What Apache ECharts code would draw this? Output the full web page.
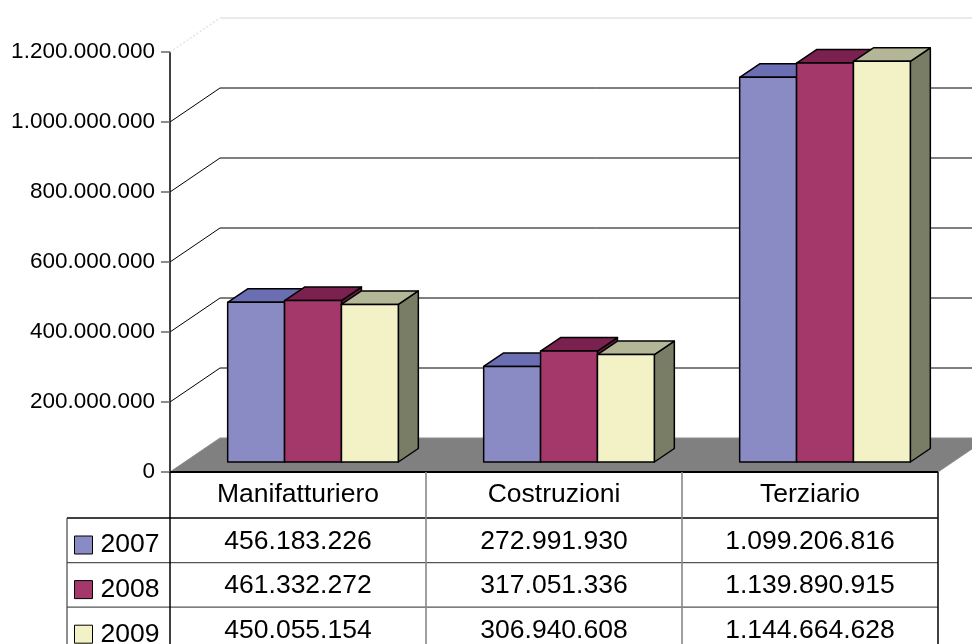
<!DOCTYPE html>
<html>
<head>
<meta charset="utf-8">
<script src="https://cdn.jsdelivr.net/npm/echarts@6/dist/echarts.min.js"></script>
<style>
html,body{margin:0;padding:0;background:#fff;}
#chart{width:972px;height:644px;}
</style>
</head>
<body>
<div id="chart"></div>
<script>
// ---- data ----
const categories = ['Manifatturiero', 'Costruzioni', 'Terziario'];
const years = ['2007', '2008', '2009'];
const values2007 = [456183226, 272991930, 1099206816];
const values2008 = [461332272, 317051336, 1139890915];
const values2009 = [450055154, 306940608, 1144664628];
const yTicks = [0, 200000000, 400000000, 600000000, 800000000, 1000000000, 1200000000];

// ---- style / layout ----
const FONT = "'Liberation Sans', Arial, sans-serif";
const WALL_DX = 50, WALL_DY = -34;
const BAR_DX0 = 15, BAR_DY0 = -10;
const BAR_DDX = 20, BAR_DDY = -13.5;
const HEADER_H = 46, ROW_H = 44.6, TABLE_LEFT = 67;
const colors = [
  {front: '#8A8AC4', top: '#6B6EB3', side: '#585a98'},
  {front: '#A5386A', top: '#7B2150', side: '#661a42'},
  {front: '#F2F2C6', top: '#B4B797', side: '#7A7D66'}
];

function fmt(v) {
  return String(Math.round(v)).replace(/\B(?=(\d{3})+(?!\d))/g, '.');
}

const seriesValues = [values2007, values2008, values2009];

function barRender(yi) {
  return function (params, api) {
    const cat = api.value(0), val = api.value(1);
    const base = api.coord([cat, 0]);
    const top = api.coord([cat, val]);
    const band = api.size([1, 0])[0];
    const bw = band / 4.5;
    const x0 = base[0] - 1.5 * bw + yi * bw + BAR_DX0;
    const x1 = x0 + bw;
    const yb = base[1] + BAR_DY0, yt = top[1] + BAR_DY0;
    const c = colors[yi];
    const stroke = {stroke: '#000', lineWidth: 1.5, lineJoin: 'round'};
    const rowY = base[1] + HEADER_H + (yi + 0.5) * ROW_H + 1;
    return {
      type: 'group',
      children: [
        {type: 'polygon', shape: {points: [[x1, yt], [x1 + BAR_DDX, yt + BAR_DDY], [x1 + BAR_DDX, yb + BAR_DDY], [x1, yb]]},
          style: Object.assign({fill: c.side}, stroke)},
        {type: 'polygon', shape: {points: [[x0, yt], [x1, yt], [x1 + BAR_DDX, yt + BAR_DDY], [x0 + BAR_DDX, yt + BAR_DDY]]},
          style: Object.assign({fill: c.top}, stroke)},
        {type: 'rect', shape: {x: x0, y: yt, width: bw, height: yb - yt},
          style: Object.assign({fill: c.front}, stroke)},
        {type: 'text', x: base[0], y: rowY,
          style: {text: fmt(val), fill: '#000', font: '26.5px ' + FONT, align: 'center', verticalAlign: 'middle'}}
      ]
    };
  };
}

const series = [];

// back wall grid lines
series.push({
  type: 'custom', name: 'wall', z: 1, silent: true,
  data: yTicks.slice(1).map(v => [0, v]),
  encode: {x: 0, y: 1},
  renderItem: function (params, api) {
    const cs = params.coordSys;
    const v = api.value(1);
    const y = api.coord([0, v])[1];
    const isTop = v === yTicks[yTicks.length - 1];
    const style = isTop ? {stroke: '#e4e4e4', lineWidth: 1.5} : {stroke: '#000', lineWidth: 1};
    return {
      type: 'group',
      children: [
        {type: 'line', shape: {x1: cs.x, y1: y, x2: cs.x + WALL_DX, y2: y + WALL_DY},
          style: Object.assign({}, style, isTop ? {lineDash: [2, 2]} : {})},
        {type: 'line', shape: {x1: cs.x + WALL_DX, y1: y + WALL_DY, x2: cs.x + cs.width + WALL_DX, y2: y + WALL_DY}, style: style}
      ]
    };
  }
});

// floor
series.push({
  type: 'custom', name: 'floor', z: 2, silent: true,
  data: [[0, 0]],
  encode: {x: 0, y: 1},
  renderItem: function (params, api) {
    const cs = params.coordSys;
    const y = api.coord([0, 0])[1];
    return {
      type: 'polygon',
      shape: {points: [[cs.x, y], [cs.x + cs.width, y], [cs.x + cs.width + WALL_DX, y + WALL_DY], [cs.x + WALL_DX, y + WALL_DY]]},
      style: {fill: '#808080', stroke: '#8c8c8c', lineWidth: 1}
    };
  }
});

// data table lines
series.push({
  type: 'custom', name: 'table', z: 2, silent: true,
  data: [[0, 0]],
  encode: {x: 0, y: 1},
  renderItem: function (params, api) {
    const cs = params.coordSys;
    const y0 = api.coord([0, 0])[1];
    const band = api.size([1, 0])[0];
    const bottom = 700;
    const left = cs.x, right = cs.x + cs.width;
    const ch = [];
    const hl = (y, x1, x2, col, w) => ch.push({type: 'line', shape: {x1: x1, y1: y, x2: x2, y2: y}, style: {stroke: col, lineWidth: w}});
    const vl = (x, y1, y2, col, w) => ch.push({type: 'line', shape: {x1: x, y1: y1, x2: x, y2: y2}, style: {stroke: col, lineWidth: w}});
    hl(y0, left, right, '#000', 2);
    hl(y0 + HEADER_H, TABLE_LEFT, right, '#000', 1.5);
    for (let i = 1; i < years.length; i++) hl(y0 + HEADER_H + i * ROW_H, TABLE_LEFT, right, '#555', 1.2);
    vl(TABLE_LEFT, y0 + HEADER_H, bottom, '#444', 1.2);
    vl(left, y0, bottom, '#000', 1.5);
    for (let k = 1; k < categories.length; k++) vl(left + k * band, y0, bottom, '#888', 1.6);
    vl(right, y0, bottom, '#111', 1.6);
    return {type: 'group', children: ch};
  }
});

years.forEach((yr, yi) => {
  series.push({
    type: 'custom', name: yr, z: 3,
    itemStyle: {color: colors[yi].front},
    data: seriesValues[yi].map((v, i) => [i, v]),
    encode: {x: 0, y: 1},
    renderItem: barRender(yi)
  });
});

const chart = echarts.init(document.getElementById('chart'));
chart.setOption({
  animation: false,
  backgroundColor: '#fff',
  textStyle: {fontFamily: FONT},
  grid: {left: 170, right: 34, top: 52, bottom: 172},
  legend: {
    data: years, orient: 'vertical', left: 74, top: 530, height: 200, padding: 0,
    icon: 'rect', itemWidth: 18, itemHeight: 18, itemGap: 14.6,
    selectedMode: false,
    itemStyle: {borderColor: '#000', borderWidth: 1},
    textStyle: {fontSize: 26.5, color: '#000', lineHeight: 30, fontFamily: FONT, padding: [0, 0, 0, 3]}
  },
  xAxis: {
    type: 'category', data: categories,
    axisLine: {show: false}, axisTick: {show: false}, splitLine: {show: false},
    axisLabel: {fontSize: 26.5, color: '#000', margin: 23, verticalAlign: 'middle', fontFamily: FONT, interval: 0}
  },
  yAxis: {
    type: 'value', min: 0, max: 1200000000, interval: 200000000,
    axisLine: {show: true, lineStyle: {color: '#000', width: 1.5}},
    axisTick: {show: true, length: 9, lineStyle: {color: '#666', width: 1.5}},
    splitLine: {show: false},
    axisLabel: {fontSize: 22.5, color: '#000', margin: 15, fontFamily: FONT, formatter: fmt}
  },
  series: series
});
</script>
</body>
</html>
